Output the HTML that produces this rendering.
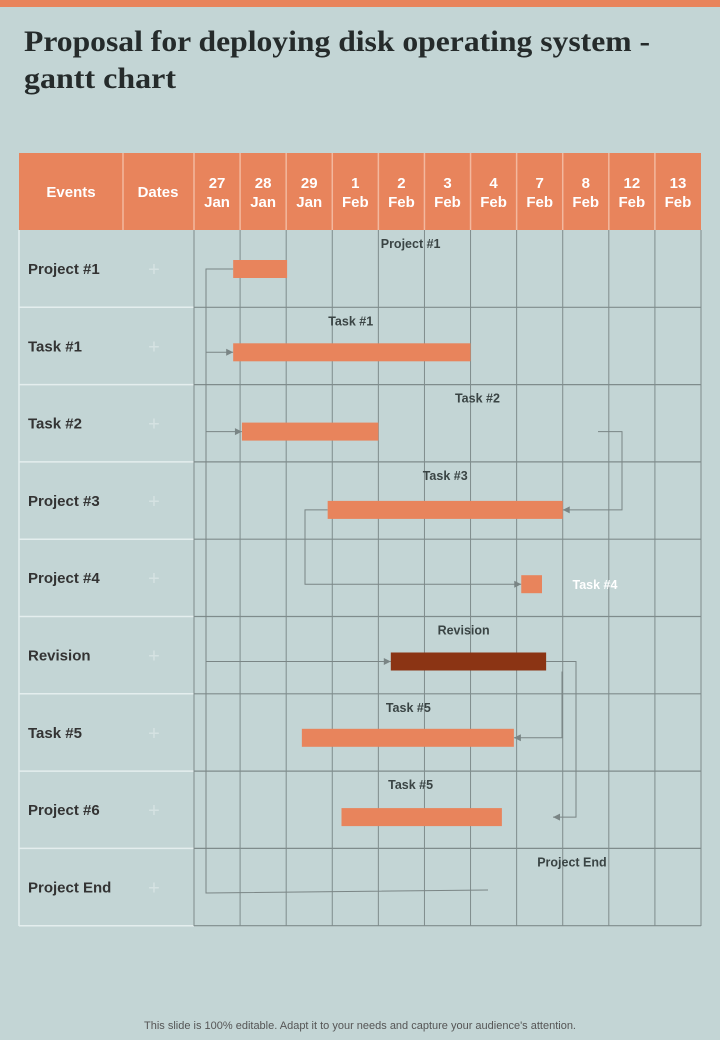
<!DOCTYPE html>
<html><head><meta charset="utf-8"><style>
body{margin:0;background:#c3d5d5;}
svg{display:block;font-family:"Liberation Sans",sans-serif;}
</style></head><body>
<svg id="c" width="720" height="1040" viewBox="0 0 720 1040">
<rect x="0" y="0" width="720" height="1040" fill="#c3d5d5"/>
<rect x="0" y="0" width="720" height="7" fill="#e8845c"/>
<text x="24" y="51" font-family="Liberation Serif,serif" font-weight="bold" font-size="30" fill="#252b2b" textLength="626" lengthAdjust="spacingAndGlyphs">Proposal for deploying disk operating system -</text>
<text x="24" y="88" font-family="Liberation Serif,serif" font-weight="bold" font-size="30" fill="#252b2b" textLength="152" lengthAdjust="spacingAndGlyphs">gantt chart</text>
<g id="grid"></g>
<g id="marks"></g>
<text x="360" y="1029" text-anchor="middle" font-size="11" fill="#555">This slide is 100% editable. Adapt it to your needs and capture your audience's attention.</text>
</svg>
<script>
const dateTop=["27","28","29","1","2","3","4","7","8","12","13"];
const dateBot=["Jan","Jan","Jan","Feb","Feb","Feb","Feb","Feb","Feb","Feb","Feb"];
const events=["Project #1","Task #1","Task #2","Project #3","Project #4","Revision","Task #5","Project #6","Project End"];
const barStart=[0.85,0.85,1.04,2.9,7.1,4.27,2.34,3.2];
const barEnd=[2.02,6.0,4.0,8.0,7.55,7.64,6.94,6.68];
const barLabels=["Project #1","Task #1","Task #2","Task #3","Task #4","Revision","Task #5","Task #5","Project End"];
const labelPos=[4.7,3.4,6.15,5.45,8.7,5.85,4.65,4.7,8.2];

const NS="http://www.w3.org/2000/svg";
const X0=194,X1=701,COLW=(X1-X0)/11,Y0=230,ROWH=77.3,HY=153;
const xs=v=>X0+v*COLW, ry=i=>Y0+i*ROWH;
function mk(t,a,p){const e=document.createElementNS(NS,t);for(const k in a)e.setAttribute(k,a[k]);p.appendChild(e);return e;}
const G=document.getElementById('grid'),M=document.getElementById('marks');

// header
let h=mk('rect',{x:19,y:HY,width:682,height:77,fill:'#e8845c'},G);


let t=mk('text',{x:71,y:197,'text-anchor':'middle','font-size':15,'font-weight':'bold',fill:'#fff'},G);t.textContent='Events';


t=mk('text',{x:158,y:197,'text-anchor':'middle','font-size':15,'font-weight':'bold',fill:'#fff'},G);t.textContent='Dates';


mk('line',{x1:123,y1:HY,x2:123,y2:230,stroke:'#f3b89e','stroke-width':1.5},G);
dateTop.forEach((d,i)=>{
  const cx=xs(i+0.5);
  mk('line',{x1:xs(i),y1:HY,x2:xs(i),y2:230,stroke:'#f3b89e','stroke-width':1.5},G);
  const tx=mk('text',{x:cx,y:188,'text-anchor':'middle','font-size':15,'font-weight':'bold',fill:'#fff'},G);
  
  
  mk('tspan',{x:cx,dy:0},tx).textContent=d;
  mk('tspan',{x:cx,dy:19},tx).textContent=dateBot[i];
});
// left cells
events.forEach((e,i)=>{
  const y=ry(i);
  mk('line',{x1:19,y1:y+ROWH,x2:194,y2:y+ROWH,stroke:'#e4eeee','stroke-width':1.5},G);
  const tx=mk('text',{x:28,y:y+44,'font-size':15,'font-weight':'bold',fill:'#333'},G);tx.textContent=e;
  
  
  const p=mk('text',{x:154,y:y+46,'text-anchor':'middle','font-size':20,fill:'#d5e2e2'},G);p.textContent='+';
  
  
});
mk('line',{x1:19,y1:230,x2:19,y2:926,stroke:'#e4eeee','stroke-width':1.5},G);
// grid
for(let i=0;i<=11;i++) mk('line',{x1:xs(i),y1:230,x2:xs(i),y2:926,stroke:'#7f8c8c','stroke-width':1},G);
for(let i=1;i<=9;i++) mk('line',{x1:194,y1:ry(i),x2:701,y2:ry(i),stroke:'#7f8c8c','stroke-width':1.2},G);
// connectors
const C='#7a8585';
function ln(pts){mk('polyline',{points:pts.map(p=>p.join(',')).join(' '),fill:'none',stroke:C,'stroke-width':1},M);}
function arr(x,y,dir){const d=dir;mk('polygon',{points:`${x},${y} ${x-7*d},${y-3.5} ${x-7*d},${y+3.5}`,fill:C},M);}
const cy=i=>ry(i)+[39,45,47,48,45,45,44,46][i];
ln([[xs(barStart[0]),cy(0)],[206,cy(0)],[206,893],[488,890]]);
[1,2,5].forEach(i=>{ln([[206,cy(i)],[xs(barStart[i]),cy(i)]]);arr(xs(barStart[i]),cy(i),1);});
ln([[598,cy(2)],[622,cy(2)],[622,cy(3)],[xs(barEnd[3]),cy(3)]]);arr(xs(barEnd[3]),cy(3),-1);
ln([[xs(barStart[3]),cy(3)],[305,cy(3)],[305,cy(4)],[xs(barStart[4]),cy(4)]]);arr(xs(barStart[4]),cy(4),1);
ln([[xs(barEnd[5]),cy(5)],[576,cy(5)],[576,cy(7)],[553,cy(7)]]);arr(553,cy(7),-1);
ln([[562,cy(5)+10],[562,cy(6)],[xs(barEnd[6]),cy(6)]]);arr(xs(barEnd[6]),cy(6),-1);
// bars
barStart.forEach((s,i)=>{
  const r=mk('rect',{x:xs(s),y:cy(i)-9,width:xs(barEnd[i])-xs(s),height:18,fill:i===5?'#8b3414':'#e8845c'},M);
  
  
});
barLabels.forEach((l,i)=>{
  const tx=mk('text',{x:xs(labelPos[i]),y:i===4?cy(4)+5:ry(i)+18,'text-anchor':'middle','font-size':12.5,'font-weight':'bold',fill:i===4?'#fff':'#3a4444'},M);
  tx.textContent=l;
  
  
});
</script>
</body></html>
